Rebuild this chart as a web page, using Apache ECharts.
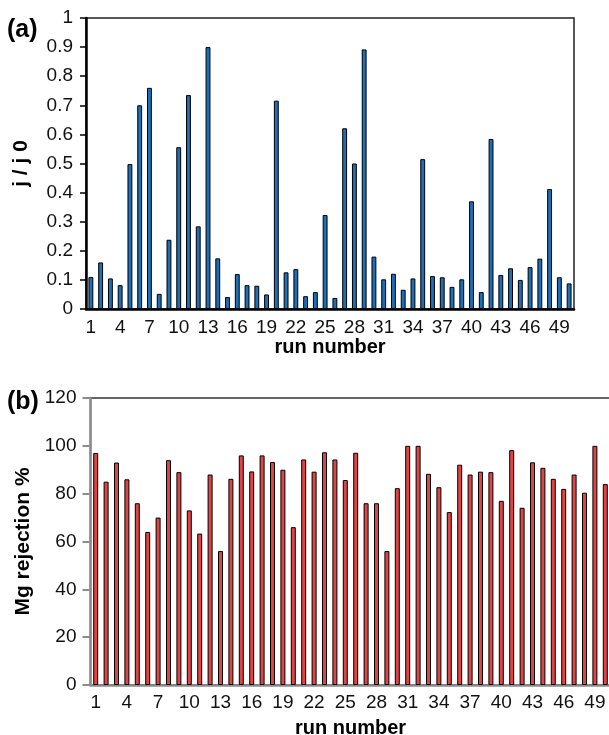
<!DOCTYPE html>
<html>
<head>
<meta charset="utf-8">
<script src="https://cdn.jsdelivr.net/npm/echarts@6/dist/echarts.min.js"></script>
<style>
  html, body { margin: 0; padding: 0; background: #fff; }
  #chart { width: 609px; height: 735px; }
</style>
</head>
<body>
<div id="chart"></div>
<script>
  const runs = Array.from({ length: 50 }, (_, i) => String(i + 1));

  // (a) j / j0 per run
  const fluxRatio = [
    0.11, 0.16, 0.105, 0.082, 0.498, 0.70, 0.76, 0.052, 0.238, 0.556,
    0.735, 0.284, 0.90, 0.174, 0.041, 0.12, 0.082, 0.08, 0.05, 0.716,
    0.126, 0.137, 0.044, 0.058, 0.323, 0.038, 0.621, 0.50, 0.892, 0.18,
    0.102, 0.121, 0.066, 0.105, 0.515, 0.113, 0.109, 0.076, 0.102, 0.37,
    0.058, 0.584, 0.117, 0.14, 0.10, 0.144, 0.173, 0.412, 0.109, 0.088
  ];

  // (b) Mg rejection % per run
  const mgRejection = [
    97, 85, 93, 86, 76, 64, 70, 94, 89, 73,
    63.3, 88, 56, 86.2, 96, 89.3, 96, 93.2, 90, 66,
    94.3, 89.2, 97.3, 94.3, 85.7, 97.1, 76, 76, 56, 82.3,
    100, 100, 88.3, 82.7, 72.3, 92.1, 88, 89.2, 89, 77,
    98.2, 74.1, 93.1, 90.8, 86.2, 82, 88, 80.4, 100, 84
  ];

  const font = 'Liberation Sans, Arial, sans-serif';
  const chart = echarts.init(document.getElementById('chart'));

  function xAxisFor(gridIndex, lineColor, nameGap, labelMargin) {
    return {
      type: 'category',
      gridIndex: gridIndex,
      data: runs,
      name: 'run number',
      nameLocation: 'middle',
      nameGap: nameGap,
      nameTextStyle: { color: '#000', fontSize: 20, fontWeight: 'bold', fontFamily: font },
      axisLine: { lineStyle: { color: lineColor, width: 2.5 } },
      axisTick: { show: false },
      axisLabel: { interval: 2, color: '#111', fontSize: 19, fontFamily: font, margin: labelMargin }
    };
  }

  chart.setOption({
    animation: false,
    grid: [
      { left: 86, top: 18, width: 488, height: 291, outerBoundsMode: 'none', show: true, borderColor: '#222', borderWidth: 1.5 },
      { left: 90.5, top: 398, width: 520, height: 287, outerBoundsMode: 'none', show: true, borderColor: '#333', borderWidth: 1.5 }
    ],
    graphic: [
      { type: 'text', left: 7, top: 18, style: { text: '(a)', font: 'bold 25px ' + font, fill: '#000' } },
      { type: 'text', left: 7, top: 390, style: { text: '(b)', font: 'bold 25px ' + font, fill: '#000' } }
    ],
    xAxis: [xAxisFor(0, '#000', 27, 9), xAxisFor(1, '#8c8c8c', 33, 8)],
    yAxis: [
      {
        type: 'value',
        gridIndex: 0,
        min: 0,
        max: 1,
        interval: 0.1,
        name: 'j / j 0',
        nameLocation: 'middle',
        nameGap: 54,
        nameTextStyle: { color: '#000', fontSize: 21, fontWeight: 'bold', fontFamily: font },
        axisLine: { show: true, lineStyle: { color: '#000', width: 2.5 } },
        axisTick: { show: true, length: 6, lineStyle: { color: '#000', width: 1.5 } },
        axisLabel: { color: '#111', fontSize: 19, fontFamily: font, margin: 13 },
        splitLine: { show: false }
      },
      {
        type: 'value',
        gridIndex: 1,
        min: 0,
        max: 120,
        interval: 20,
        name: 'Mg rejection %',
        nameLocation: 'middle',
        nameGap: 52,
        nameTextStyle: { color: '#000', fontSize: 21, fontWeight: 'bold', fontFamily: font },
        axisLine: { show: true, lineStyle: { color: '#8c8c8c', width: 2.5 } },
        axisTick: { show: true, length: 8, lineStyle: { color: '#8c8c8c', width: 2 } },
        axisLabel: { color: '#111', fontSize: 19, fontFamily: font, margin: 14 },
        splitLine: { show: false }
      }
    ],
    series: [
      {
        type: 'bar',
        xAxisIndex: 0,
        yAxisIndex: 0,
        barWidth: '50%',
        itemStyle: { color: '#1d6fb8', borderColor: '#000', borderWidth: 1 },
        data: fluxRatio
      },
      {
        type: 'bar',
        xAxisIndex: 1,
        yAxisIndex: 1,
        barWidth: '48%',
        itemStyle: { color: '#e04545', borderColor: '#000', borderWidth: 1 },
        data: mgRejection
      }
    ]
  });
</script>
</body>
</html>
